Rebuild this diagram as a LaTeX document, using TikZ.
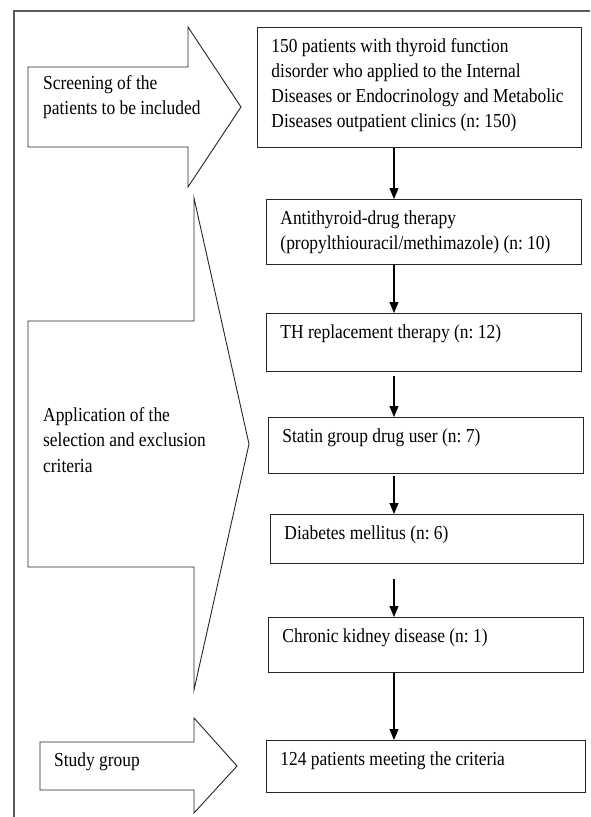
\documentclass[tikz,border=0pt]{standalone}
\usepackage{fontspec}
\setmainfont[FakeStretch=0.88]{Liberation Serif}
\frenchspacing
\definecolor{framegray}{HTML}{5C5C5C}
\definecolor{ink}{HTML}{262626}
\usepackage{tikz}
\usetikzlibrary{arrows.meta}
\tikzset{
  flowbox/.style={draw=ink, line width=0.9pt, anchor=north west, inner xsep=14pt, inner ysep=0pt,
    text height=25pt, align=flush left, font=\fontsize{19.8}{25}\selectfont},
  flowarrow/.style={draw=black, line width=1.1pt, -{Triangle[length=11pt,width=9pt]}},
  bigarrow/.style={draw=ink, line width=0.9pt},
  sidetext/.style={anchor=base west, inner sep=0pt, text width=200pt, align=flush left,
    font=\fontsize{19.8}{25.5}\selectfont}
}

\begin{document}
\begin{tikzpicture}[x=1pt, y=-1pt]
  \useasboundingbox (0,0) rectangle (590,817);
  \fill[white] (0,0) rectangle (590,817);
  \draw[framegray, line width=1.4pt] (590,11) -- (14,11) -- (14,817);

  \draw[bigarrow] (28,67) -- (188,67) -- (188,27) -- (241,107) -- (188,187) -- (188,147) -- (28,147) -- cycle;
  \draw[bigarrow] (28,321) -- (194,321) -- (194,198) -- (249,444) -- (194,690) -- (194,567) -- (28,567) -- cycle;
  \draw[bigarrow] (40,742) -- (194,742) -- (194,718) -- (237,766) -- (194,813) -- (194,790) -- (40,790) -- cycle;
  \node[sidetext] (screen) at (43,89) {Screening of the\\patients to be included};
  \node[sidetext] (apply) at (43,421) {Application of the\\selection and exclusion\\criteria};
  \node[sidetext] (study) at (54,766) {Study group};

  \foreach \nm/\x/\y/\w/\h/\txt in {
    b1/257/27/324/120/{150 patients with thyroid function\\disorder who applied to the Internal\\Diseases or Endocrinology and Metabolic\\Diseases outpatient clinics (n: 150)},
    b2/266/199/315/65/{Antithyroid-drug therapy\\(propylthiouracil/methimazole) (n: 10)},
    b3/266/313/315/58/{TH replacement therapy (n: 12)},
    b4/268/417/315/56/{Statin group drug user (n: 7)},
    b5/270/514/313/49/{Diabetes mellitus (n: 6)},
    b6/268/617/315/55/{Chronic kidney disease (n: 1)},
    b7/266/740/319/52/{124 patients meeting the criteria}} {
    \pgfmathsetmacro{\boxw}{\w-28}
    \pgfmathsetmacro{\boxd}{\h-25}
    \node[flowbox, text width=\boxw pt, text depth=\boxd pt] (\nm) at (\x,\y) {\txt};
  }

  \coordinate (axis) at (394,0);
  \foreach \a/\b/\gap in {b1/b2/0, b2/b3/0, b3/b4/4, b4/b5/2, b5/b6/15, b6/b7/0}
    \draw[flowarrow, shorten <=\gap pt] (\a.south -| axis) -- (\b.north -| axis);
\end{tikzpicture}
\end{document}
